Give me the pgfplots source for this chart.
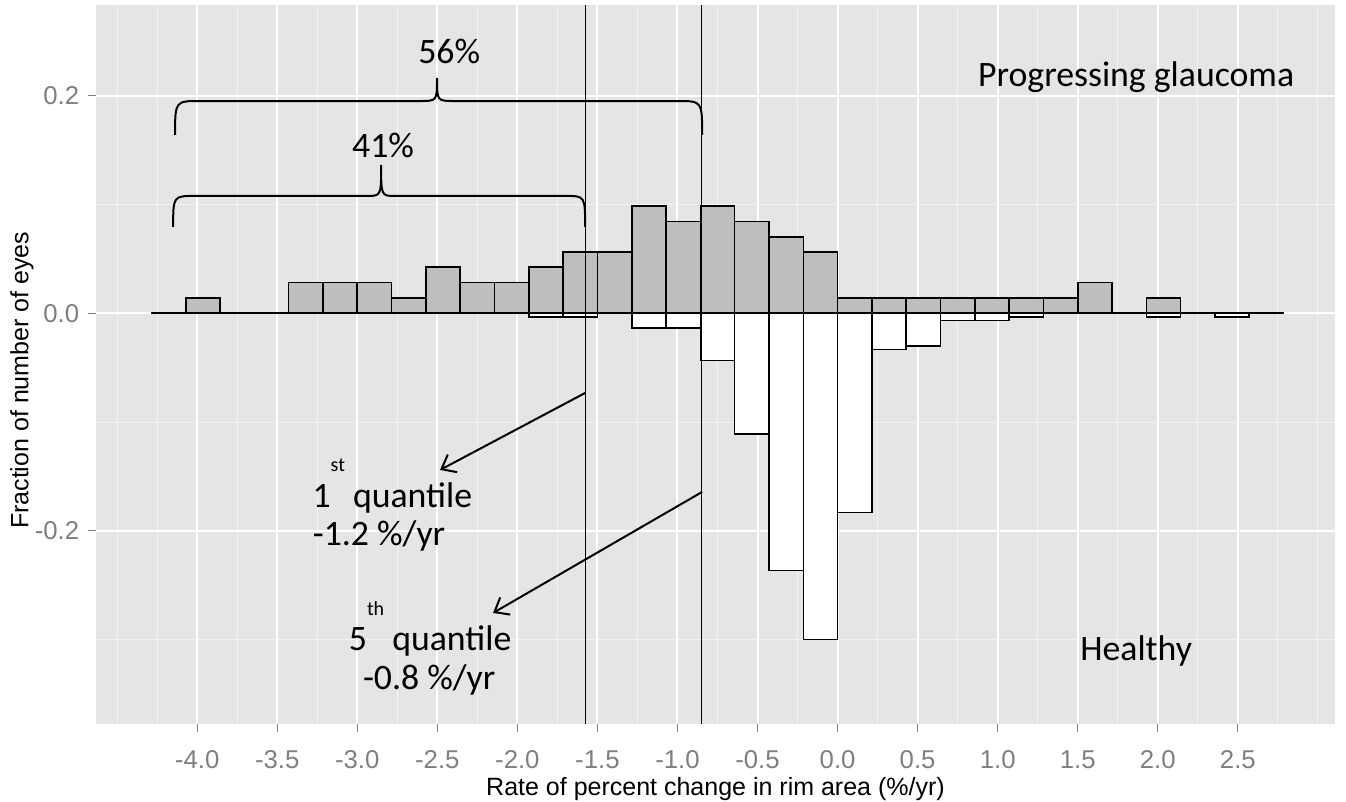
\documentclass[border=0pt]{standalone}
\usepackage{pgfplots}
\pgfplotsset{compat=1.18}
\usepackage{pgfplotstable}
\usepackage{fontspec}
\setmainfont{Liberation Sans}
\newfontfamily\calfont{Carlito}
\usetikzlibrary{arrows.meta}
\definecolor{panelbg}{RGB}{229,229,229}
\definecolor{minorgrid}{RGB}{242,242,242}
\definecolor{tickgrey}{RGB}{127,127,127}
\definecolor{bargrey}{RGB}{190,190,190}

% glaucoma: fraction of 71 eyes per bin (bin left edge)
\pgfplotstableread{
x y
-4.286 0
-4.071 0.0141
-3.857 0
-3.643 0
-3.429 0.0282
-3.214 0.0282
-3.000 0.0282
-2.786 0.0141
-2.571 0.0423
-2.357 0.0282
-2.143 0.0282
-1.929 0.0423
-1.714 0.0563
-1.500 0.0563
-1.286 0.0986
-1.071 0.0845
-0.857 0.0986
-0.643 0.0845
-0.429 0.0704
-0.214 0.0563
0.000 0.0141
0.214 0.0141
0.429 0.0141
0.643 0.0141
0.857 0.0141
1.071 0.0141
1.286 0.0141
1.500 0.0282
1.714 0
1.929 0.0141
2.143 0
2.357 0
2.571 0
2.786 0
}\glaucoma

% healthy: negative fraction per bin (bin left edge)
\pgfplotstableread{
x y
-4.286 0
-4.071 0
-3.857 0
-3.643 0
-3.429 0
-3.214 0
-3.000 0
-2.786 0
-2.571 0
-2.357 0
-2.143 0
-1.929 -0.0033
-1.714 -0.0033
-1.500 0
-1.286 -0.0133
-1.071 -0.0133
-0.857 -0.0433
-0.643 -0.1110
-0.429 -0.2367
-0.214 -0.3000
0.000 -0.1833
0.214 -0.0333
0.429 -0.0300
0.643 -0.0067
0.857 -0.0067
1.071 -0.0033
1.286 0
1.500 0
1.714 0
1.929 -0.0033
2.143 0
2.357 -0.0033
2.571 0
2.786 0
}\healthy

\begin{document}
\begin{tikzpicture}
\useasboundingbox (0,0) rectangle (538.4pt,320.8pt);
\begin{axis}[
  at={(38.4pt,31.2pt)}, anchor=south west,
  scale only axis, width=495.6pt, height=287.6pt,
  xmin=-4.632, xmax=3.107, ymin=-0.3777, ymax=0.2835,
  axis background/.style={fill=panelbg},
  axis line style={draw=none},
  xtick={-4,-3.5,-3,-2.5,-2,-1.5,-1,-0.5,0,0.5,1,1.5,2,2.5},
  minor xtick={-4.5,-4.25,-3.75,-3.25,-2.75,-2.25,-1.75,-1.25,-0.75,-0.25,0.25,0.75,1.25,1.75,2.25,2.75,3.0},
  ytick={-0.2,0,0.2},
  minor ytick={-0.3,-0.1,0.1},
  grid=both,
  major grid style={white, line width=0.8pt},
  minor grid style={minorgrid, line width=0.4pt},
  tick align=outside, tick pos=left,
  major tick length=3.2pt, minor tick length=0pt,
  tick style={tickgrey, line width=0.5pt},
  /pgf/number format/assume math mode=true,
  ticklabel style={font=\fontsize{10.3}{12}\selectfont, text=tickgrey},
  xticklabel style={yshift=-4pt, /pgf/number format/.cd, fixed, fixed zerofill, precision=1},
  yticklabel style={/pgf/number format/.cd, fixed, fixed zerofill, precision=1},
  xlabel={Rate of percent change in rim area (\%/yr)},
  ylabel={Fraction of number of eyes},
  label style={font=\fontsize{10.3}{12}\selectfont},
  every axis x label/.style={at={(axis description cs:0.5,0)}, yshift=-26pt, anchor=center},
  every axis y label/.style={at={(axis description cs:0,0.478)}, xshift=-29.6pt, rotate=90, anchor=center},
]
\addplot[ybar interval, fill=white, draw=black, line width=0.65pt] table[x=x,y=y] {\healthy};
\addplot[ybar interval, fill=bargrey, draw=black, line width=0.65pt] table[x=x,y=y] {\glaucoma};
\addplot[black, line width=0.6pt] coordinates {(-1.576,-0.3777) (-1.576,0.2835)};
\addplot[black, line width=0.6pt] coordinates {(-0.850,-0.3777) (-0.850,0.2835)};

% braces
\draw[line width=0.8pt] (axis cs:-4.150,0.0794) .. controls (axis cs:-4.150,0.1079) .. (axis cs:-4.013,0.1079) -- (axis cs:-2.939,0.1079) .. controls (axis cs:-2.851,0.1079) .. (axis cs:-2.851,0.1364) .. controls (axis cs:-2.851,0.1079) .. (axis cs:-2.764,0.1079) -- (axis cs:-1.702,0.1079) .. controls (axis cs:-1.577,0.1079) .. (axis cs:-1.577,0.0794);
\draw[line width=0.8pt] (axis cs:-4.138,0.164) .. controls (axis cs:-4.138,0.1952) .. (axis cs:-3.982,0.1952) -- (axis cs:-2.608,0.1952) .. controls (axis cs:-2.502,0.1952) .. (axis cs:-2.502,0.2164) .. controls (axis cs:-2.502,0.1952) .. (axis cs:-2.395,0.1952) -- (axis cs:-1.002,0.1952) .. controls (axis cs:-0.846,0.1952) .. (axis cs:-0.846,0.164);

% arrows
\draw[line width=0.8pt, -{Straight Barb[length=5pt,width=8pt]}] (axis cs:-1.577,-0.0733) -- (axis cs:-2.483,-0.1441);
\draw[line width=0.8pt, -{Straight Barb[length=5pt,width=8pt]}] (axis cs:-0.846,-0.1643) -- (axis cs:-2.152,-0.2756);

% texts
\begin{scope}[every node/.style={font=\calfont\fontsize{14.3}{16}\selectfont, inner sep=0pt}]
\node[anchor=base] at (axis cs:1.865,0.2089) {Progressing glaucoma};
\node[anchor=base] at (axis cs:1.865,-0.3197) {Healthy};
\node[anchor=base] at (axis cs:-2.426,0.2301) {56\%};
\node[anchor=base] at (axis cs:-2.839,0.1428) {41\%};
\node[anchor=base] at (axis cs:-2.781,-0.1786) {1\raisebox{1.0em}{\fontsize{8}{8}\selectfont st} quantile};
\node[anchor=base] at (axis cs:-2.864,-0.2131) {-1.2 \%/yr};
\node[anchor=base] at (axis cs:-2.545,-0.3105) {5\raisebox{1.0em}{\fontsize{8}{8}\selectfont th} quantile};
\node[anchor=base] at (axis cs:-2.551,-0.3463) {-0.8 \%/yr};
\end{scope}
\end{axis}
\end{tikzpicture}
\end{document}
